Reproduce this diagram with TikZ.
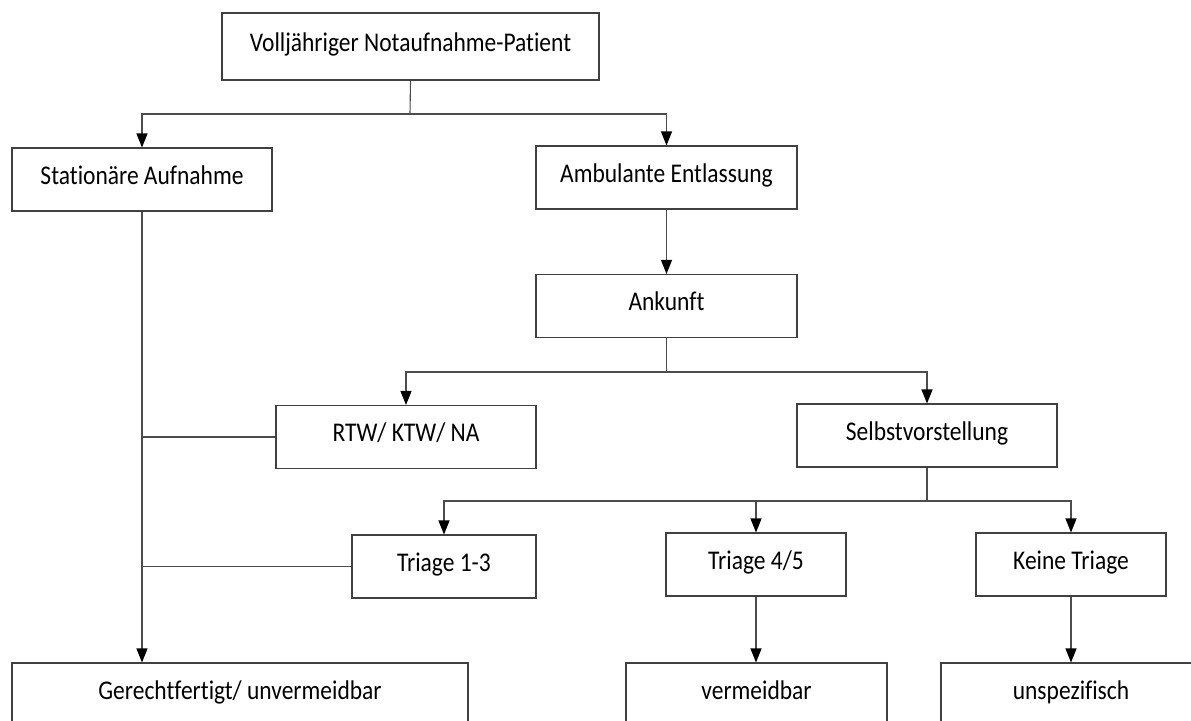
\documentclass[tikz,border=0pt]{standalone}
\usepackage{fontspec}
\setmainfont{Carlito}[Ligatures=NoCommon,FakeStretch=0.87]
\usepackage{tikz}
\usetikzlibrary{arrows.meta}
\tikzstyle{box} = [draw=black!75,line width=1.1pt,rectangle,inner sep=0pt,minimum height=63pt,text height=20pt,text depth=11pt,font=\fontsize{27}{32}\selectfont]
\tikzstyle{arrow} = [draw=black!70,line width=1.1pt,-{Triangle[width=11pt,length=14pt,black]}]
\tikzstyle{line} = [draw=black!70,line width=1.1pt]

\begin{document}
\begin{tikzpicture}[x=1pt,y=-1pt]
  \useasboundingbox (0,0) rectangle (1191,720);
  \clip (0,0) rectangle (1191,720);

  \node[box,minimum width=377pt,minimum height=67pt] (patient) at (410.5,46.5) {Volljähriger Notaufnahme-Patient};
  \node[box,minimum width=260pt] (stationaer) at (142,179.5) {Stationäre Aufnahme};
  \node[box,minimum width=261pt] (ambulant) at (666.5,177.5) {Ambulante Entlassung};
  \node[box,minimum width=261pt] (ankunft) at (666.5,306) {Ankunft};
  \node[box,minimum width=260pt] (rtw) at (406,437) {RTW/ KTW/ NA};
  \node[box,minimum width=260pt] (selbst) at (927,435.5) {Selbstvorstellung};
  \node[box,minimum width=184pt] (triage13) at (444,566.5) {Triage 1-3};
  \node[box,minimum width=180pt] (triage45) at (756,564.5) {Triage 4/5};
  \node[box,minimum width=190pt] (keine) at (1071,564.5) {Keine Triage};
  \node[box,minimum width=456pt] (gerecht) at (240,694.5) {Gerechtfertigt/ unvermeidbar};
  \node[box,minimum width=261pt] (vermeid) at (756.5,694.5) {vermeidbar};
  \node[box,minimum width=260pt] (unspez) at (1071,694.5) {unspezifisch};

  % Verzweigungen
  \coordinate (s1) at (410,114);
  \coordinate (s2) at (666.5,372);
  \coordinate (s3) at (927,501);

  \draw[line] (patient.south) -- (s1);
  \draw[arrow] (s1) -| (stationaer.north);
  \draw[arrow] (s1) -| (ambulant.north);
  \draw[arrow] (ambulant) -- (ankunft);

  \draw[line] (ankunft.south) -- (s2);
  \draw[arrow] (s2) -| (rtw.north);
  \draw[arrow] (s2) -| (selbst.north);

  \draw[line] (selbst.south) -- (s3);
  \draw[arrow] (s3) -| (triage13.north);
  \draw[arrow] (s3) -| (triage45.north);
  \draw[arrow] (s3) -| (keine.north);

  \draw[arrow] (stationaer.south) -- (stationaer.south |- gerecht.north);
  \draw[line] (rtw.west) -- (rtw.west -| stationaer.south);
  \draw[line] (triage13.west) -- (triage13.west -| stationaer.south);

  \draw[arrow] (triage45.south) -- (triage45.south |- vermeid.north);
  \draw[arrow] (keine) -- (unspez);
\end{tikzpicture}
\end{document}
